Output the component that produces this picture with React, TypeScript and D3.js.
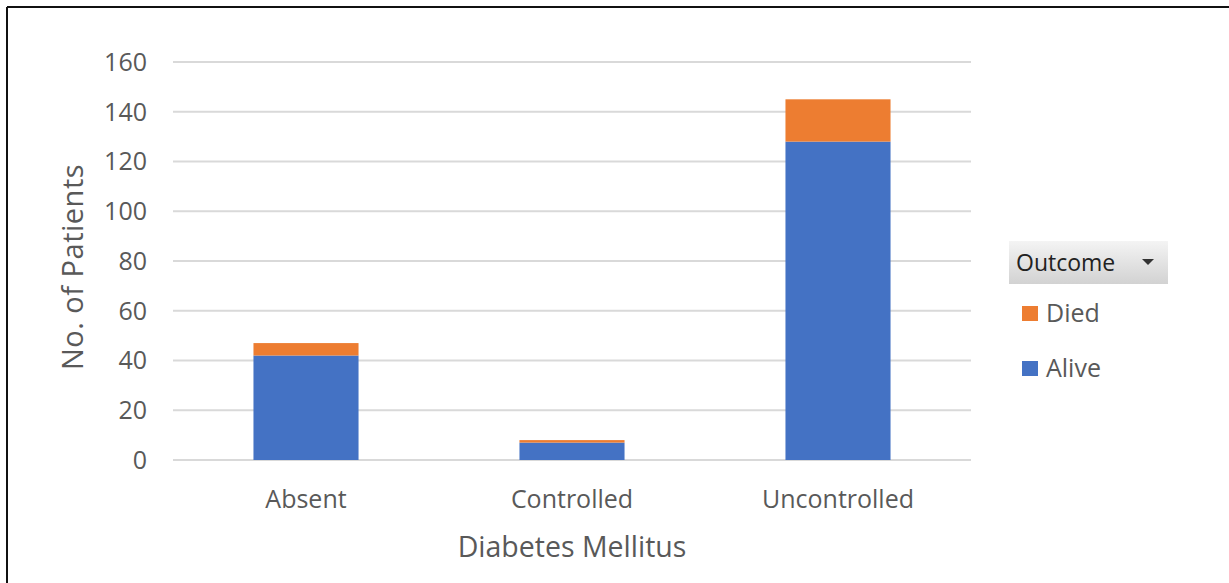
import * as d3 from 'd3'
import React, { useEffect, useRef } from 'react'

const categories = ['Absent', 'Controlled', 'Uncontrolled']
const alive = [42, 7, 128]
const died = [5, 1, 17]
const seriesNames = ['Alive', 'Died']
const seriesColors = ['#4472c4', '#ed7d31']
const yTicks = [0, 20, 40, 60, 80, 100, 120, 140, 160]

const W = 1229
const H = 583
const FONT = '"Open Sans", sans-serif'

export default function App() {
  const svgRef = useRef<SVGSVGElement | null>(null)

  useEffect(() => {
    const svg = d3.select(svgRef.current)
    svg.selectAll('*').remove()

    const left = 173
    const right = 971
    const top = 62
    const bottom = 460

    const x = d3.scaleBand<string>().domain(categories).range([left, right]).paddingInner(0.605).paddingOuter(0.3025)
    const y = d3.scaleLinear().domain([0, 160]).range([bottom, top])

    const rows = categories.map((c, i) => ({ category: c, Alive: alive[i], Died: died[i] }))
    const stacked = d3.stack<any>().keys(seriesNames)(rows)

    // frame (top and left edges only visible)
    svg.append('line').attr('x1', 7).attr('x2', W).attr('y1', 7).attr('y2', 7).attr('stroke', '#111').attr('stroke-width', 2)
    svg.append('line').attr('x1', 7).attr('x2', 7).attr('y1', 7).attr('y2', H).attr('stroke', '#111').attr('stroke-width', 2)

    // gridlines
    svg
      .append('g')
      .selectAll('line')
      .data(yTicks)
      .enter()
      .append('line')
      .attr('x1', left)
      .attr('x2', right)
      .attr('y1', (d) => y(d))
      .attr('y2', (d) => y(d))
      .attr('stroke', '#d9d9d9')
      .attr('stroke-width', 2)

    // y tick labels
    svg
      .append('g')
      .selectAll('text')
      .data(yTicks)
      .enter()
      .append('text')
      .attr('x', 147)
      .attr('y', (d) => y(d))
      .attr('dy', '0.35em')
      .attr('text-anchor', 'end')
      .style('font-family', FONT)
      .style('font-size', '25px')
      .style('fill', '#595959')
      .text((d) => d)

    // bars
    svg
      .append('g')
      .selectAll('g')
      .data(stacked)
      .enter()
      .append('g')
      .attr('fill', (_, i) => seriesColors[i])
      .selectAll('rect')
      .data((s) => s)
      .enter()
      .append('rect')
      .attr('x', (d) => x(d.data.category) ?? 0)
      .attr('width', x.bandwidth())
      .attr('y', (d) => y(d[1]))
      .attr('height', (d) => y(d[0]) - y(d[1]))

    // x labels
    svg
      .append('g')
      .selectAll('text')
      .data(categories)
      .enter()
      .append('text')
      .attr('x', (d) => (x(d) ?? 0) + x.bandwidth() / 2)
      .attr('y', 508)
      .attr('text-anchor', 'middle')
      .style('font-family', FONT)
      .style('font-size', '25px')
      .style('fill', '#595959')
      .text((d) => d)

    // axis titles
    svg
      .append('text')
      .attr('x', (left + right) / 2)
      .attr('y', 557)
      .attr('text-anchor', 'middle')
      .style('font-family', FONT)
      .style('font-size', '28.5px')
      .style('fill', '#595959')
      .text('Diabetes Mellitus')

    svg
      .append('text')
      .attr('transform', `translate(83,267) rotate(-90)`)
      .attr('text-anchor', 'middle')
      .style('font-family', FONT)
      .style('font-size', '29px')
      .style('letter-spacing', '0.5px')
      .style('fill', '#595959')
      .text('No. of Patients')

    // legend
    const defs = svg.append('defs')
    const grad = defs.append('linearGradient').attr('id', 'legendGrad').attr('x1', 0).attr('x2', 0).attr('y1', 0).attr('y2', 1)
    grad.append('stop').attr('offset', '0%').attr('stop-color', '#f4f4f4')
    grad.append('stop').attr('offset', '100%').attr('stop-color', '#d2d2d2')

    const lg = svg.append('g')
    lg.append('rect').attr('x', 1009).attr('y', 241).attr('width', 159).attr('height', 43).attr('fill', 'url(#legendGrad)')
    lg.append('text')
      .attr('x', 1016)
      .attr('y', 271)
      .style('font-family', FONT)
      .style('font-size', '23px')
      .style('fill', '#222')
      .text('Outcome')
    lg.append('path').attr('d', 'M1142,259 L1154,259 L1148,265 Z').attr('fill', '#333')

    const legendItems = [
      { name: seriesNames[1], color: seriesColors[1], y: 313 },
      { name: seriesNames[0], color: seriesColors[0], y: 368 },
    ]
    legendItems.forEach((it) => {
      lg.append('rect').attr('x', 1022).attr('y', it.y - 7).attr('width', 16).attr('height', 15).attr('fill', it.color)
      lg.append('text')
        .attr('x', 1046)
        .attr('y', it.y)
        .attr('dy', '0.35em')
        .style('font-family', FONT)
        .style('font-size', '25px')
        .style('fill', '#595959')
        .text(it.name)
    })
  }, [])

  return <svg ref={svgRef} width={W} height={H} style={{ position: 'absolute', left: 0, top: 0, background: '#fff' }}></svg>
}
